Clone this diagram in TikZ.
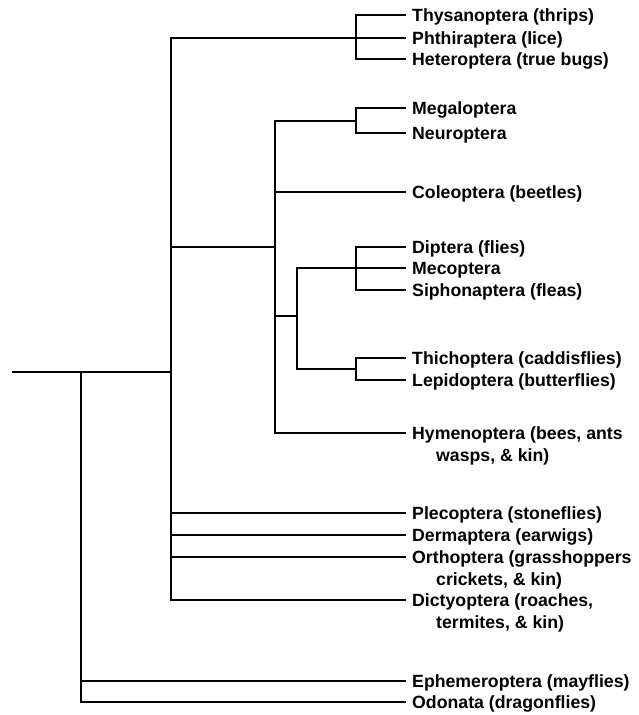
\documentclass[tikz,border=0pt]{standalone}
\usepackage{fontspec}
\setmainfont{Liberation Sans}
\usetikzlibrary{positioning}
\tikzset{branch/.style={line width=1.3pt,draw=black},
 taxon/.style={anchor=base west,xshift=6pt,yshift=-6pt,inner sep=0pt,align=left,
 font=\bfseries\fontsize{17.7}{22}\selectfont},
 twoline/.style={taxon,yshift=-22pt}}

\begin{document}
\begin{tikzpicture}[x=1pt,y=-1pt]
\useasboundingbox (0,0) rectangle (639,715);
\coordinate (root) at (12,372);
\coordinate (pter) at (81,372);
\coordinate (neo) at (171,372);
\coordinate (para) at (356,38);
\coordinate (holo) at (275,247);
\coordinate (neur) at (356,121);
\coordinate (mec) at (297,316);
\coordinate (anti) at (356,268);
\coordinate (amph) at (356,369);
\foreach \n/\y/\txt in {thy/15/Thysanoptera (thrips),phth/38/Phthiraptera (lice),
 het/59/Heteroptera (true bugs),meg/108/Megaloptera,neu/133/Neuroptera,
 col/192/Coleoptera (beetles),dip/247/Diptera (flies),mecop/268/Mecoptera,
 sip/290/Siphonaptera (fleas),tri/358/Thichoptera (caddisflies),lep/380/Lepidoptera (butterflies),
 ple/513/Plecoptera (stoneflies),der/535/Dermaptera (earwigs),
 eph/681/Ephemeroptera (mayflies),odo/702/Odonata (dragonflies)}{
 \coordinate (\n-end) at (406,\y);
 \node[taxon] (\n) at (\n-end) {\txt};
}
\foreach \n/\y/\txt in {{hym/433/Hymenoptera (bees, ants\\\hspace*{24pt}wasps, \& kin)},
 {ort/557/Orthoptera (grasshoppers\\\hspace*{24pt}crickets, \& kin)},
 {dic/600/Dictyoptera (roaches,\\\hspace*{24pt}termites, \& kin)}}{
 \coordinate (\n-end) at (406,\y);
 \node[twoline] (\n) at (\n-end) {\txt};
}
\draw[branch] (root) -- (neo);
\draw[branch] (pter) |- (eph-end);
\draw[branch] (pter) |- (odo-end);
\draw[branch] (neo) |- (para);
\draw[branch] (neo) |- (holo);
\foreach \n in {ple,der,ort,dic}
 \draw[branch] (neo) |- (\n-end);
\draw[branch] (para) |- (thy-end);
\draw[branch] (para) -- (phth-end);
\draw[branch] (para) |- (het-end);
\draw[branch] (holo) |- (neur);
\draw[branch] (holo) |- (col-end);
\draw[branch] (holo) |- (mec);
\draw[branch] (holo) |- (hym-end);
\draw[branch] (neur) |- (meg-end);
\draw[branch] (neur) |- (neu-end);
\draw[branch] (mec) |- (anti);
\draw[branch] (mec) |- (amph);
\draw[branch] (anti) |- (dip-end);
\draw[branch] (anti) -- (mecop-end);
\draw[branch] (anti) |- (sip-end);
\draw[branch] (amph) |- (tri-end);
\draw[branch] (amph) |- (lep-end);
\end{tikzpicture}
\end{document}
